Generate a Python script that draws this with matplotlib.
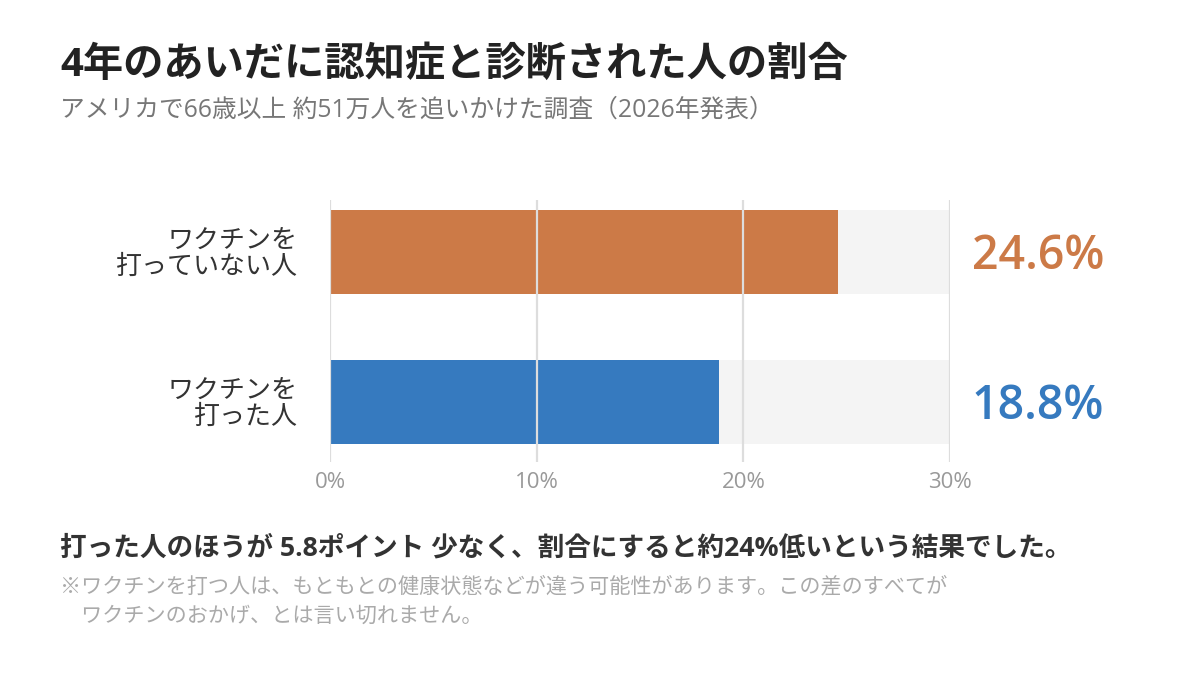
import matplotlib
matplotlib.use("Agg")
import matplotlib.pyplot as plt
from matplotlib.transforms import blended_transform_factory

plt.rcParams['font.family'] = ['Open Sans', 'Noto Sans CJK JP', 'DejaVu Sans']

categories = ["ワクチンを\n打っていない人", "ワクチンを\n打った人"]
values = [24.6, 18.8]
value_labels = ["24.6%", "18.8%"]
bar_colors = ["#CC7A47", "#367ABF"]
xticks = [0, 10, 20, 30]
xtick_labels = ["0%", "10%", "20%", "30%"]
xmax = 30

title = "4年のあいだに認知症と診断された人の割合"
subtitle = "アメリカで66歳以上 約51万人を追いかけた調査（2026年発表）"
summary = "打った人のほうが 5.8ポイント 少なく、割合にすると約24%低いという結果でした。"
note1 = "※ワクチンを打つ人は、もともとの健康状態などが違う可能性があります。この差のすべてが"
note2 = "　ワクチンのおかげ、とは言い切れません。"

W, H = 1200, 690
fig = plt.figure(figsize=(12, 6.9), dpi=100)
fig.patch.set_facecolor("white")

ax = fig.add_axes([330 / W, 1 - 462 / H, 620 / W, 262 / H])
ypos = list(range(len(categories)))
ax.barh(ypos, [xmax] * len(values), height=0.56, color="#F4F4F4", zorder=1)
ax.barh(ypos, values, height=0.56, color=bar_colors, zorder=2)
for t in xticks:
    ax.axvline(t, color="#DDDDDD", lw=1.6, zorder=3)

ax.set_xlim(0, xmax)
ax.set_ylim(1.4, -0.3467)
ax.set_xticks(xticks)
ax.set_xticklabels(xtick_labels, color="#999999", fontsize=16)
ax.set_yticks(ypos)
ax.set_yticklabels(categories, fontsize=18.7, color="#333333", linespacing=1.0, ha="right")
ax.tick_params(axis="both", length=0)
ax.tick_params(axis="x", pad=7)
ax.tick_params(axis="y", pad=23)
for s in ax.spines.values():
    s.set_visible(False)

tr = blended_transform_factory(fig.transFigure, ax.transData)
for y, lab, c in zip(ypos, value_labels, bar_colors):
    ax.text(1104 / W, y + 17 / 150, lab, transform=tr, ha="right", va="baseline",
            fontsize=33.5, fontweight="semibold", color=c, clip_on=False)

fig.text(60 / W, 1 - 65 / H, title, fontsize=29, fontweight="bold",
         color="#222222", ha="left", va="center")
fig.text(60 / W, 1 - 110 / H, subtitle, fontsize=17.8, color="#777777",
         ha="left", va="center")
fig.text(60 / W, 1 - 548 / H, summary, fontsize=19.2, fontweight="bold",
         color="#333333", ha="left", va="center")
fig.text(60 / W, 1 - 587 / H, note1, fontsize=15.2, color="#AAAAAA",
         ha="left", va="center")
fig.text(60 / W, 1 - 616 / H, note2, fontsize=15.2, color="#AAAAAA",
         ha="left", va="center")

fig.savefig("out.png", dpi=100, facecolor="white")
